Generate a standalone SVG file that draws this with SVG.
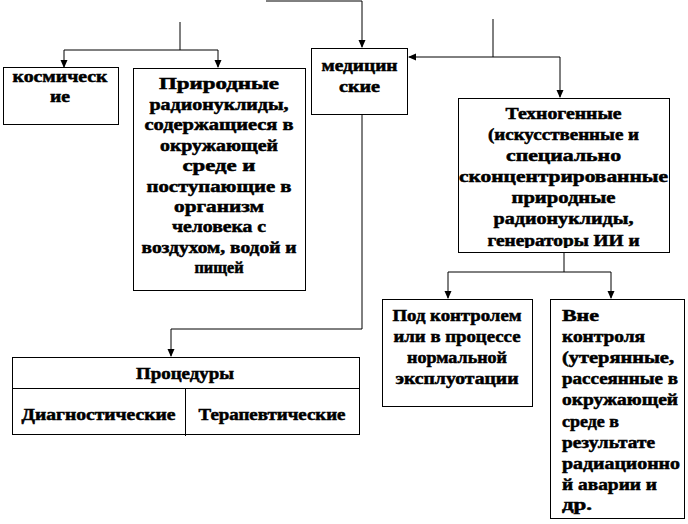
<svg xmlns="http://www.w3.org/2000/svg" width="688" height="524" viewBox="0 0 688 524">
<style>
.box{fill:#fff;stroke:#000;stroke-width:1}
.ln{fill:none;stroke:#000;stroke-width:1}
text{font-family:'Liberation Serif','Times New Roman',serif;font-weight:bold;font-size:16px;fill:#000;stroke:#000;stroke-width:0.5}
.c{text-anchor:middle}
</style>
<defs>
<marker id="ah" viewBox="0 0 8 8" refX="7" refY="4" markerWidth="8" markerHeight="8" orient="auto" markerUnits="userSpaceOnUse">
<path d="M0,0.5 L8,4 L0,7.5 Z" fill="#000"/>
</marker>
<clipPath id="techClip"><rect x="458" y="98" width="211" height="150"/></clipPath>
</defs>
<rect width="688" height="524" fill="#fff"/>
<g id="connectors">
<polyline class="ln" points="266,1 362,1 362,47" marker-end="url(#ah)"/>
<line class="ln" x1="180" y1="22" x2="180" y2="50"/>
<polyline class="ln" points="180,50 64,50 64,67" marker-end="url(#ah)"/>
<polyline class="ln" points="180,50 218,50 218,67" marker-end="url(#ah)"/>
<line class="ln" x1="493" y1="19" x2="493" y2="57"/>
<polyline class="ln" points="493,57 409,57" marker-end="url(#ah)"/>
<polyline class="ln" points="493,57 560,57 560,97" marker-end="url(#ah)"/>
<polyline class="ln" points="362,115 362,329 171,329 171,356" marker-end="url(#ah)"/>
<line class="ln" x1="564" y1="253" x2="564" y2="272"/>
<polyline class="ln" points="564,272 448,272 448,298" marker-end="url(#ah)"/>
<polyline class="ln" points="564,272 611,272 611,298" marker-end="url(#ah)"/>
</g>
<g id="kosmicheskie">
<rect class="box" x="3.5" y="67.5" width="115" height="57"/>
<text class="c" x="60" y="82" textLength="95" lengthAdjust="spacingAndGlyphs">космическ</text>
<text class="c" x="60" y="102" textLength="20" lengthAdjust="spacingAndGlyphs">ие</text>
</g>
<g id="prirodnye">
<rect class="box" x="133.5" y="68.5" width="172" height="222"/>
<text class="c" x="219" y="89" textLength="120" lengthAdjust="spacingAndGlyphs">Природные</text>
<text class="c" x="219" y="110" textLength="139" lengthAdjust="spacingAndGlyphs">радионуклиды,</text>
<text class="c" x="219" y="130" textLength="149" lengthAdjust="spacingAndGlyphs">содержащиеся в</text>
<text class="c" x="219" y="151" textLength="118" lengthAdjust="spacingAndGlyphs">окружающей</text>
<text class="c" x="219" y="171" textLength="73" lengthAdjust="spacingAndGlyphs">среде и</text>
<text class="c" x="219" y="192" textLength="145" lengthAdjust="spacingAndGlyphs">поступающие в</text>
<text class="c" x="219" y="212" textLength="90" lengthAdjust="spacingAndGlyphs">организм</text>
<text class="c" x="219" y="232" textLength="94" lengthAdjust="spacingAndGlyphs">человека с</text>
<text class="c" x="219" y="253" textLength="155" lengthAdjust="spacingAndGlyphs">воздухом, водой и</text>
<text class="c" x="219" y="273" textLength="49" lengthAdjust="spacingAndGlyphs">пищей</text>
</g>
<g id="medicinskie">
<rect class="box" x="311.5" y="48.5" width="96" height="66"/>
<text class="c" x="359.5" y="71" textLength="76" lengthAdjust="spacingAndGlyphs">медицин</text>
<text class="c" x="359.5" y="92" textLength="41" lengthAdjust="spacingAndGlyphs">ские</text>
</g>
<g id="tehnogennye">
<rect class="box" x="458.5" y="98.5" width="211" height="154"/>
<g clip-path="url(#techClip)">
<text class="c" x="563.5" y="119" textLength="116" lengthAdjust="spacingAndGlyphs">Техногенные</text>
<text class="c" x="563.5" y="140" textLength="151" lengthAdjust="spacingAndGlyphs">(искусственные и</text>
<text class="c" x="563.5" y="161" textLength="115" lengthAdjust="spacingAndGlyphs">специально</text>
<text class="c" x="563.5" y="182" textLength="209" lengthAdjust="spacingAndGlyphs">сконцентрированные</text>
<text class="c" x="563.5" y="203" textLength="104" lengthAdjust="spacingAndGlyphs">природные</text>
<text class="c" x="563.5" y="224" textLength="140" lengthAdjust="spacingAndGlyphs">радионуклиды,</text>
<text class="c" x="563.5" y="246" textLength="152" lengthAdjust="spacingAndGlyphs">генераторы ИИ и</text>
</g>
</g>
<g id="pod-kontrolem">
<rect class="box" x="382.5" y="299.5" width="150" height="107"/>
<text class="c" x="457" y="321" textLength="129" lengthAdjust="spacingAndGlyphs">Под контролем</text>
<text class="c" x="457" y="342" textLength="127" lengthAdjust="spacingAndGlyphs">или в процессе</text>
<text class="c" x="457" y="363" textLength="100" lengthAdjust="spacingAndGlyphs">нормальной</text>
<text class="c" x="457" y="384" textLength="123" lengthAdjust="spacingAndGlyphs">эксплуотации</text>
</g>
<g id="vne-kontrolya">
<rect class="box" x="550.5" y="299.5" width="134" height="219"/>
<text x="562" y="321" textLength="37" lengthAdjust="spacingAndGlyphs">Вне</text>
<text x="562" y="342" textLength="83" lengthAdjust="spacingAndGlyphs">контроля</text>
<text x="562" y="363" textLength="112" lengthAdjust="spacingAndGlyphs">(утерянные,</text>
<text x="562" y="384" textLength="116" lengthAdjust="spacingAndGlyphs">рассеянные в</text>
<text x="562" y="405" textLength="116" lengthAdjust="spacingAndGlyphs">окружающей</text>
<text x="562" y="427" textLength="57" lengthAdjust="spacingAndGlyphs">среде в</text>
<text x="562" y="448" textLength="93" lengthAdjust="spacingAndGlyphs">результате</text>
<text x="562" y="469" textLength="118" lengthAdjust="spacingAndGlyphs">радиационно</text>
<text x="562" y="490" textLength="95" lengthAdjust="spacingAndGlyphs">й аварии и</text>
<text x="562" y="510" textLength="30" lengthAdjust="spacingAndGlyphs">др.</text>
</g>
<g id="procedury">
<rect class="box" x="12.5" y="357.5" width="347" height="77"/>
<line class="ln" x1="12.5" y1="388.5" x2="359.5" y2="388.5"/>
<line class="ln" x1="185.5" y1="388.5" x2="185.5" y2="436"/>
<text class="c" x="185" y="379" textLength="98" lengthAdjust="spacingAndGlyphs">Процедуры</text>
<text class="c" x="98.5" y="420" textLength="154" lengthAdjust="spacingAndGlyphs">Диагностические</text>
<text class="c" x="272" y="420" textLength="147" lengthAdjust="spacingAndGlyphs">Терапевтические</text>
</g>
</svg>
